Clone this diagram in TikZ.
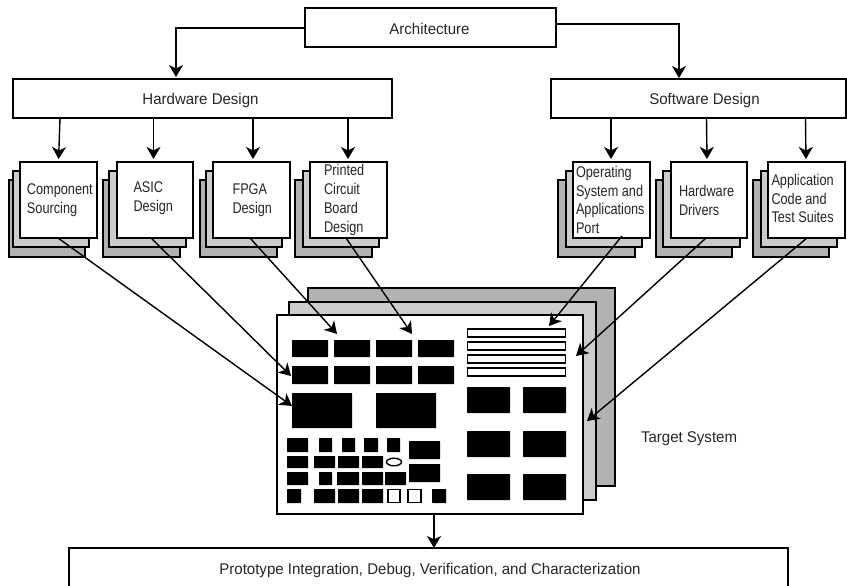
\documentclass[tikz,border=0pt]{standalone}
\usepackage{fontspec}
\setmainfont{Liberation Sans}[FakeStretch=0.97]
\newfontfamily\stackfont{Liberation Sans}[FakeStretch=0.82]
\usetikzlibrary{arrows.meta}
\tikzset{
  x=1pt,y=-1pt,
  plain/.style={draw=black,line width=1.4pt,fill=white,inner sep=0pt,outer sep=0pt},
  back/.style={plain,fill=backgray},
  mid/.style={plain,fill=midgray},
  lbl/.style={font=\fontsize{15.5}{18.8}\selectfont,inner sep=0pt,outer sep=0pt,align=left,text=black!85},
  stacklbl/.style={font=\stackfont\fontsize{15.5}{18.8}\selectfont,inner sep=0pt,outer sep=0pt,align=left,text=black!85,anchor=west},
  arr/.style={draw=black,line width=1.4pt,-{Stealth[length=12pt,width=14pt,inset=3.5pt]}},
  chip/.style={fill=black,rounded corners=0.5pt},
  slot/.style={draw=black,line width=1.4pt,fill=white}
}
\definecolor{backgray}{HTML}{B2B2B2}
\definecolor{midgray}{HTML}{CCCCCC}
\newcommand{\rbox}[6]{%
  \pgfmathsetmacro{\myCx}{(#2+#4)/2}%
  \pgfmathsetmacro{\myCy}{(#3+#5)/2}%
  \pgfmathsetmacro{\myW}{#4-#2}%
  \pgfmathsetmacro{\myH}{#5-#3}%
  \node[#6,minimum width=\myW pt,minimum height=\myH pt] (#1) at (\myCx,\myCy) {};}
\newcommand{\chipat}[4]{\fill[chip] (#1,#2) rectangle (#3,#4);}
\newcommand{\slotat}[4]{\draw[slot] (#1,#2) rectangle (#3,#4);}
\newcommand{\stackof}[7]{% name, front x0,x1, mid x0,x1, back x0,x1
  \rbox{#1b}{#6}{180}{#7}{257}{back}
  \rbox{#1m}{#4}{171}{#5}{247}{mid}
  \rbox{#1}{#2}{162}{#3}{238}{plain}}
\begin{document}
\begin{tikzpicture}
\useasboundingbox (0,0) rectangle (847,586);
% top boxes
\rbox{arch}{305}{8}{556}{47}{plain}
\rbox{hw}{13}{79}{392}{118}{plain}
\rbox{sw}{551}{79}{846}{118}{plain}
\node[lbl] (archl) at (429.5,29) {Architecture};
\node[lbl] (hwl) at (200.5,100) {Hardware Design};
\node[lbl] (swl) at (704.5,100) {Software Design};
% stacks
\stackof{s1}{20}{97}{13}{89}{9}{85}
\stackof{s2}{117}{193}{109}{186}{103}{180}
\stackof{s3}{213}{290}{206}{282}{200}{277}
\stackof{s4}{310}{387}{303}{379}{295}{372}
\stackof{s5}{573}{650}{566}{642}{558}{635}
\stackof{s6}{671}{747}{663}{740}{656}{732}
\stackof{s7}{768}{845}{761}{837}{753}{829}
\node[stacklbl] (l1) at (27,200.5) {Component\\Sourcing};
\node[stacklbl] (l2) at (133.5,198.5) {ASIC\\Design};
\node[stacklbl] (l3) at (232.5,200.5) {FPGA\\Design};
\node[stacklbl] (l4) at (324,200) {Printed\\Circuit\\Board\\Design};
\node[stacklbl] (l5) at (576,200) {Operating\\System and\\Applications\\Port};
\node[stacklbl] (l6) at (679,200.5) {Hardware\\Drivers};
\node[stacklbl] (l7) at (771.5,198.5) {Application\\Code and\\Test Suites};
% target system
\rbox{tb}{308}{288}{615}{486}{back}
\rbox{tm}{289}{302}{596}{500}{mid}
\rbox{tf}{277}{315}{583}{514}{plain}
\node[lbl,anchor=west] (tl) at (641,439) {Target System};
% board contents
\foreach \xa/\xb in {292/328,334/370,376/412,418/454}{
  \chipat{\xa}{340}{\xb}{357}
  \chipat{\xa}{366}{\xb}{384}
}
\chipat{292}{393}{352}{428}
\chipat{376}{393}{436}{428}
\foreach \xa/\xb in {287/308,319/332,342/355,364/378,387/400}{\chipat{\xa}{438}{\xb}{452}}
\foreach \xa/\xb in {287/308,314/335,338/359,362/383}{\chipat{\xa}{456}{\xb}{468}}
\foreach \xa/\xb in {287/308,319/332,337/359,362/383,385/406}{\chipat{\xa}{472}{\xb}{485}}
\foreach \xa/\xb in {287/301,314/335,338/359,362/383,432/446}{\chipat{\xa}{489}{\xb}{503}}
\slotat{388}{489.5}{400}{502.5}
\slotat{408}{489.5}{421}{502.5}
\draw[slot] (394,462) ellipse [x radius=7.5,y radius=3.8];
\chipat{409}{441}{440}{459}
\chipat{409}{464}{440}{482}
\foreach \ya/\yb in {329/337,342/350,355/363,368/376}{\slotat{467.5}{\ya}{565.5}{\yb}}
\foreach \ya/\yb in {387/413,431/457,474/500}{
  \chipat{467}{\ya}{510}{\yb}
  \chipat{523}{\ya}{566}{\yb}
}
% bottom box (its lower edge lies beyond the picture)
\rbox{pi}{69}{548}{788}{586}{inner sep=0pt,outer sep=0pt}
\draw[line width=1.4pt] (pi.south west) -- (pi.north west) -- (pi.north east) -- (pi.south east);
\node[lbl] (pil) at ([xshift=1.5pt,yshift=-3pt]pi.center) {Prototype Integration, Debug, Verification, and Characterization};
% connectors
\draw[arr,shorten >=2pt] ([yshift=-0.5pt]arch.west) -| ([xshift=-26.5pt]hw.north);
\draw[arr,shorten >=1pt] ([yshift=3.5pt]arch.east) -| ([xshift=-19.5pt]sw.north);
\foreach \src/\sx/\dst/\dx in {hw/-142.5/s1/0,hw/-49/s2/-1.5,hw/50.5/s3/1.5,hw/145.5/s4/-0.5,
  sw/-87.5/s5/-0.5,sw/8/s6/-2,sw/107/s7/-0.5}{
  \draw[arr,shorten >=3pt] ([xshift=\sx pt]\src.south) -- ([xshift=\dx pt]\dst.north);
}
\coordinate (t1) at (292,406);
\coordinate (t2) at (291,376);
\coordinate (t3) at (337,334);
\coordinate (t4) at (412,334);
\coordinate (t5) at (549,326);
\coordinate (t6) at (576,356);
\coordinate (t7) at (587,421);
\draw[arr] ([xshift=-0.5pt]s1.south) -- (t1);
\draw[arr] ([xshift=-4pt]s2.south) -- (t2);
\draw[arr] ([xshift=-1.5pt]s3.south) -- (t3);
\draw[arr] ([xshift=-2.5pt]s4.south) -- (t4);
\draw[arr] ([xshift=10.5pt,yshift=2pt]s5.south) -- (t5);
\draw[arr] ([xshift=-3pt]s6.south) -- (t6);
\draw[arr] ([xshift=0.5pt]s7.south) -- (t7);
\draw[arr] (tf.south -| pi.north) ++(5.5,0) coordinate (bstart) -- (bstart |- pi.north);
\end{tikzpicture}
\end{document}
